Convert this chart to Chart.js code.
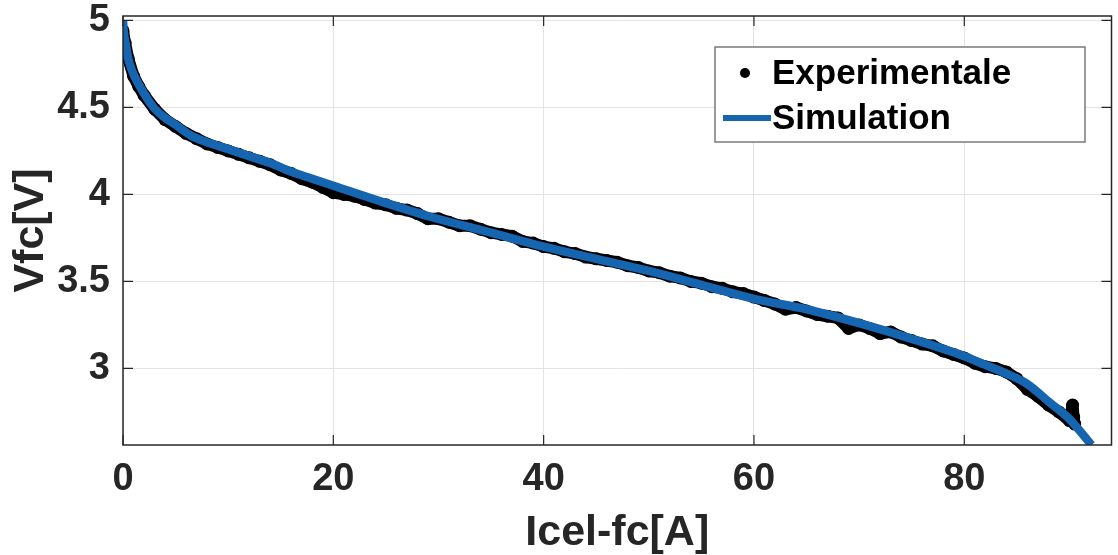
<!DOCTYPE html>
<html>
<head>
<meta charset="utf-8">
<script src="https://cdn.jsdelivr.net/npm/chart.js@4.4.0/dist/chart.umd.min.js"></script>
<style>
  body { margin: 0; background: #fff; }
  #wrap { width: 1118px; height: 555px; }
</style>
</head>
<body>
<div id="wrap"><canvas id="myChart"></canvas></div>
<script>
// values
const expX = [0, 0.2, 0.5, 1, 1.5, 2, 3, 4, 5, 6, 7, 8, 9, 10, 11, 12, 13, 14, 15, 16, 17, 18, 19, 20,
  21, 22, 23, 24, 25, 26, 27, 28, 29, 30, 31, 32, 33, 34, 35, 36, 37, 38, 39, 40,
  41, 42, 43, 44, 45, 46, 47, 48, 49, 50, 51, 52, 53, 54, 55, 56, 57, 58, 59, 60,
  61, 62, 63, 64, 65, 66, 67, 68, 69, 70, 71, 72, 73, 74, 75, 76, 77, 78, 79, 80,
  81, 82, 83, 84, 85, 86, 87, 88, 89, 90, 90.3, 90.4, 90.5];
const expY = [4.94, 4.87, 4.78, 4.68, 4.62, 4.57, 4.49, 4.43, 4.39, 4.35, 4.32, 4.29, 4.27, 4.25, 4.23, 4.21, 4.19, 4.17, 4.14, 4.12, 4.09, 4.07, 4.04, 4.01,
  4.00, 3.99, 3.97, 3.95, 3.94, 3.92, 3.91, 3.89, 3.86, 3.86, 3.84, 3.82, 3.82, 3.80, 3.78, 3.77, 3.76, 3.73, 3.72, 3.70,
  3.69, 3.67, 3.66, 3.64, 3.63, 3.62, 3.61, 3.59, 3.58, 3.56, 3.55, 3.53, 3.52, 3.50, 3.49, 3.47, 3.46, 3.44, 3.43, 3.41,
  3.39, 3.37, 3.34, 3.35, 3.33, 3.31, 3.30, 3.29, 3.23, 3.25, 3.23, 3.20, 3.21, 3.18, 3.16, 3.14, 3.13, 3.10, 3.08, 3.06,
  3.03, 3.01, 3.00, 2.98, 2.94, 2.88, 2.84, 2.79, 2.75, 2.70, 2.79, 2.72, 2.68];

const simX = [0, 0.05, 0.15, 0.27, 0.5, 0.8, 1.2, 1.8, 2.9, 4, 5, 6.4, 8, 10, 12, 14, 16, 18, 20,
  25, 29.3, 35, 40, 45, 50, 55, 60, 65, 70, 75, 80, 82, 84, 86, 88, 90, 91, 92.1];
const simY = [5.00, 4.95, 4.90, 4.86, 4.78, 4.72, 4.665, 4.60, 4.50, 4.44, 4.40, 4.34, 4.30, 4.26, 4.22, 4.18, 4.13, 4.09, 4.05,
  3.95, 3.87, 3.78, 3.70, 3.63, 3.56, 3.48, 3.40, 3.34, 3.26, 3.17, 3.07, 3.02, 2.97, 2.91, 2.81, 2.71, 2.64, 2.56];

const xTicks = [0, 20, 40, 60, 80];
const yTicks = [3, 3.5, 4, 4.5, 5];

const axisColor = '#262626';
const simColor = '#1565B0';

// matlab style box with inward ticks
const boxPlugin = {
  id: 'box',
  afterDatasetsDraw(chart) {
    const { ctx, chartArea: a, scales } = chart;
    ctx.save();
    ctx.strokeStyle = axisColor;
    ctx.lineWidth = 1.5;
    ctx.strokeRect(a.left, a.top, a.right - a.left, a.bottom - a.top);
    ctx.lineWidth = 1.2;
    ctx.beginPath();
    xTicks.forEach(v => {
      const px = scales.x.getPixelForValue(v);
      ctx.moveTo(px, a.bottom); ctx.lineTo(px, a.bottom - 10);
      ctx.moveTo(px, a.top); ctx.lineTo(px, a.top + 10);
    });
    yTicks.forEach(v => {
      const py = scales.y.getPixelForValue(v);
      ctx.moveTo(a.left, py); ctx.lineTo(a.left + 10, py);
      ctx.moveTo(a.right, py); ctx.lineTo(a.right - 10, py);
    });
    ctx.stroke();
    ctx.restore();
  }
};

// legend box drawn inside the axes
const legendPlugin = {
  id: 'boxLegend',
  afterDraw(chart) {
    const { ctx } = chart;
    const ds = chart.data.datasets;
    ctx.save();
    ctx.fillStyle = '#fff';
    ctx.fillRect(715, 47, 370, 95);
    ctx.strokeStyle = '#7a7a7a';
    ctx.lineWidth = 1.5;
    ctx.strokeRect(715, 47, 370, 95);

    ctx.fillStyle = '#000';
    ctx.beginPath();
    ctx.arc(745, 73, 5, 0, Math.PI * 2);
    ctx.fill();

    ctx.strokeStyle = simColor;
    ctx.lineWidth = 6;
    ctx.beginPath();
    ctx.moveTo(723, 118);
    ctx.lineTo(771, 118);
    ctx.stroke();

    ctx.fillStyle = '#000';
    ctx.font = 'bold 35px "Liberation Sans", Arial, sans-serif';
    ctx.textBaseline = 'middle';
    ctx.fillText(ds[0].label, 772, 74);
    ctx.fillText(ds[1].label, 772, 119);
    ctx.restore();
  }
};

const tickFont = { family: '"Liberation Sans", Arial, sans-serif', size: 38, weight: 'bold' };
const titleFont = { family: '"Liberation Sans", Arial, sans-serif', size: 43, weight: 'bold', lineHeight: 1 };

const ctx = document.getElementById('myChart');

new Chart(ctx, {
  type: 'scatter',
  data: {
    datasets: [
      {
        label: 'Experimentale',
        data: expX.map((x, i) => ({ x: x, y: expY[i] })),
        showLine: true,
        borderColor: '#000',
        backgroundColor: '#000',
        borderWidth: 12,
        borderJoinStyle: 'round',
        borderCapStyle: 'round',
        pointRadius: 6.5,
        pointBorderWidth: 0,
        order: 2,
      },
      {
        label: 'Simulation',
        data: simX.map((x, i) => ({ x: x, y: simY[i] })),
        showLine: true,
        borderColor: simColor,
        backgroundColor: simColor,
        borderWidth: 8.5,
        pointRadius: 0,
        cubicInterpolationMode: 'monotone',
        order: 1,
      },
    ],
  },
  options: {
    responsive: true,
    maintainAspectRatio: false,
    animation: false,
    events: [],
    layout: { padding: { top: 16, right: 1, left: 0, bottom: 0 } },
    plugins: {
      legend: { display: false },
      tooltip: { enabled: false },
    },
    scales: {
      x: {
        type: 'linear',
        min: 0,
        max: 94,
        afterBuildTicks: s => { s.ticks = xTicks.map(v => ({ value: v })); },
        afterFit: s => { s.height = 110; s.paddingLeft = 0; s.paddingRight = 0; },
        border: { display: false },
        grid: { color: '#e3e3e3', lineWidth: 1, drawTicks: false },
        ticks: { color: axisColor, font: tickFont, padding: 12, maxRotation: 0 },
        title: { display: true, text: 'Icel-fc[A]', color: axisColor, font: titleFont, padding: { top: 0, bottom: 0 } },
      },
      y: {
        type: 'linear',
        min: 2.56,
        max: 5.025,
        afterBuildTicks: s => { s.ticks = yTicks.map(v => ({ value: v })); },
        afterFit: s => { s.width = 123; s.paddingTop = 0; s.paddingBottom = 0; },
        border: { display: false },
        grid: { color: '#e3e3e3', lineWidth: 1, drawTicks: false },
        ticks: { color: axisColor, font: tickFont, padding: 13, callback: v => String(v) },
        title: { display: true, text: 'Vfc[V]', color: axisColor, font: titleFont, padding: { top: 10, bottom: 0 } },
      },
    },
  },
  plugins: [boxPlugin, legendPlugin],
});
</script>
</body>
</html>
